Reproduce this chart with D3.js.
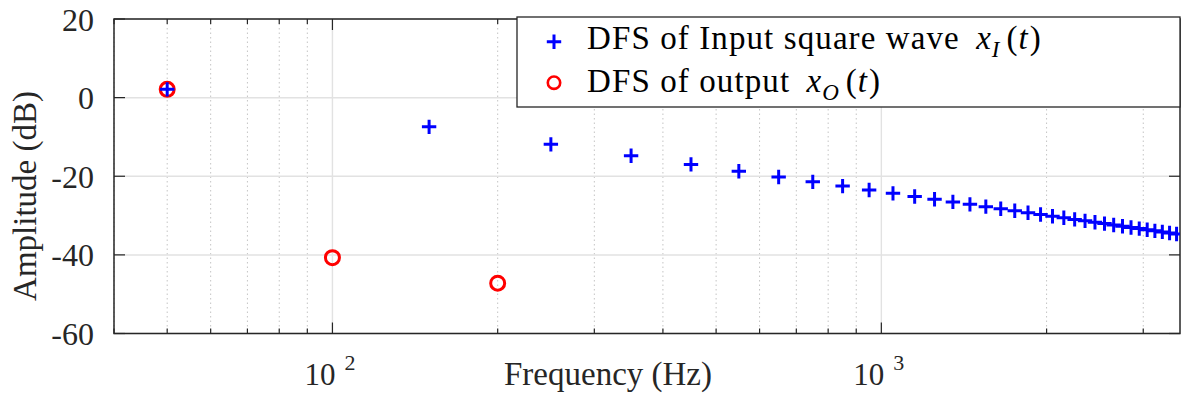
<!DOCTYPE html>
<html>
<head>
<meta charset="utf-8">
<script src="https://cdn.jsdelivr.net/npm/d3@7"></script>
<style>
  html, body { margin: 0; padding: 0; background: #fff; }
  svg { display: block; }
</style>
</head>
<body>
<svg id="chart" width="1181" height="394"></svg>
<script>
// ---- data ----
const inputFreq = [50,150,250,350,450,550,650,750,850,950,1050,1150,1250,1350,1450,1550,1650,1750,1850,1950,2050,2150,2250,2350,2450,2550,2650,2750,2850,2950,3050,3150,3250,3350,3450];
const inputDb = [2.10,-7.44,-11.88,-14.80,-16.99,-18.73,-20.18,-21.42,-22.51,-23.48,-24.35,-25.14,-25.86,-26.53,-27.15,-27.73,-28.27,-28.78,-29.27,-29.72,-30.16,-30.57,-30.97,-31.34,-31.71,-32.05,-32.39,-32.71,-33.02,-33.32,-33.61,-33.89,-34.16,-34.42,-34.68];
const outputFreq = [50, 100, 200];
const outputDb = [2.10, -40.7, -47.2];
const xMajorTicks = [100, 1000];
const xMajorExp = ["2", "3"];
const xMinorTicks = [40,50,60,70,80,90,200,300,400,500,600,700,800,900,2000,3000];
const yTicks = [20, 0, -20, -40, -60];
const legendLabels = ["DFS of Input square wave ", "DFS of output "];
const legendSubs = ["I", "O"];

// ---- layout ----
const SERIF = "'Liberation Serif', 'Times New Roman', serif";
const svg = d3.select("#chart");
const L = 114, R = 1180, T = 19, B = 333.5;
const x = d3.scaleLog().domain([40, 3500]).range([L, R]);
const y = d3.scaleLinear().domain([-60, 20]).range([B, T]);

svg.append("defs").append("clipPath").attr("id", "clip")
  .append("rect").attr("x", L - 10).attr("y", T - 10).attr("width", R - L + 10).attr("height", B - T + 20);

const g = svg.append("g");
// minor x grid (dotted)
g.selectAll(".xminor").data(xMinorTicks).enter().append("line")
  .attr("x1", d => x(d)).attr("x2", d => x(d)).attr("y1", T).attr("y2", B)
  .attr("stroke", "#c4c4c4").attr("stroke-width", 1).attr("stroke-dasharray", "1.5,3");
// major x grid
g.selectAll(".xmajor").data(xMajorTicks).enter().append("line")
  .attr("x1", d => x(d)).attr("x2", d => x(d)).attr("y1", T).attr("y2", B)
  .attr("stroke", "#e2e2e2").attr("stroke-width", 1.4);
// y grid
g.selectAll(".ygrid").data(yTicks).enter().append("line")
  .attr("x1", L).attr("x2", R).attr("y1", d => y(d)).attr("y2", d => y(d))
  .attr("stroke", "#e2e2e2").attr("stroke-width", 1.5);

// ticks (inward)
const tk = svg.append("g").attr("stroke", "#262626").attr("stroke-width", 1.2);
yTicks.forEach(d => {
  tk.append("line").attr("x1", L).attr("x2", L + 11).attr("y1", y(d)).attr("y2", y(d));
  tk.append("line").attr("x1", R).attr("x2", R - 11).attr("y1", y(d)).attr("y2", y(d));
});
xMajorTicks.forEach(d => {
  tk.append("line").attr("x1", x(d)).attr("x2", x(d)).attr("y1", B).attr("y2", B - 11);
  tk.append("line").attr("x1", x(d)).attr("x2", x(d)).attr("y1", T).attr("y2", T + 11);
});
xMinorTicks.forEach(d => {
  tk.append("line").attr("x1", x(d)).attr("x2", x(d)).attr("y1", B).attr("y2", B - 5);
  tk.append("line").attr("x1", x(d)).attr("x2", x(d)).attr("y1", T).attr("y2", T + 5);
});

// box
svg.append("rect").attr("x", L).attr("y", T).attr("width", R - L).attr("height", B - T)
  .attr("fill", "none").attr("stroke", "#262626").attr("stroke-width", 1.5);

// y tick labels
svg.selectAll(".ylab").data(yTicks).enter().append("text")
  .attr("x", 94).attr("y", d => y(d)).attr("dy", "0.36em")
  .attr("text-anchor", "end").attr("font-size", 32).attr("fill", "#262626")
  .style("font-family", SERIF).text(d => d);

// x tick labels 10^n
xMajorTicks.forEach((d, i) => {
  svg.append("text").attr("x", x(d) + 3).attr("y", 385)
    .attr("text-anchor", "end").attr("font-size", 31).attr("fill", "#262626")
    .style("font-family", SERIF).text("10");
  svg.append("text").attr("x", x(d) + 12).attr("y", 370)
    .attr("text-anchor", "start").attr("font-size", 22).attr("fill", "#262626")
    .style("font-family", SERIF).text(xMajorExp[i]);
});

// axis labels
svg.append("text").attr("x", 608).attr("y", 385).attr("text-anchor", "middle")
  .attr("font-size", 33).attr("fill", "#262626").style("font-family", SERIF).text("Frequency (Hz)");
svg.append("text").attr("transform", "translate(36,196) rotate(-90)")
  .attr("text-anchor", "middle").attr("font-size", 33).attr("fill", "#262626")
  .style("font-family", SERIF).text("Amplitude (dB)");

// marks
const plus = "M-7.2,0H7.2M0,-7.2V7.2";
const marks = svg.append("g").attr("clip-path", "url(#clip)");
marks.selectAll(".out").data(outputFreq).enter().append("circle")
  .attr("cx", d => x(d)).attr("cy", (d, i) => y(outputDb[i])).attr("r", 7)
  .attr("fill", "none").attr("stroke", "#ff0000").attr("stroke-width", 3);
marks.selectAll(".in").data(inputFreq).enter().append("path")
  .attr("transform", (d, i) => `translate(${x(d)},${y(inputDb[i])})`)
  .attr("d", plus).attr("fill", "none").attr("stroke", "#0000ff").attr("stroke-width", 3);

// legend
const lg = svg.append("g");
lg.append("rect").attr("x", 517).attr("y", 17).attr("width", 663).attr("height", 90)
  .attr("fill", "#fff").attr("stroke", "#262626").attr("stroke-width", 1.3);
lg.append("path").attr("transform", "translate(554,41.7)").attr("d", plus)
  .attr("fill", "none").attr("stroke", "#0000ff").attr("stroke-width", 3);
lg.append("circle").attr("cx", 554).attr("cy", 82.7).attr("r", 6.2)
  .attr("fill", "none").attr("stroke", "#ff0000").attr("stroke-width", 2.6);
[0, 1].forEach(i => {
  const t = lg.append("text").attr("x", 587).attr("y", i === 0 ? 49 : 91.5)
    .attr("font-size", 33).attr("fill", "#000").style("font-family", SERIF);
  t.append("tspan").style("letter-spacing", "1.1px").text(legendLabels[i]);
  t.append("tspan").attr("dx", 7).attr("font-style", "italic").text("x");
  t.append("tspan").attr("dx", 1).attr("font-style", "italic").attr("font-size", 23).attr("dy", 8).text(legendSubs[i]);
  t.append("tspan").attr("dx", 7).attr("dy", -8).text("(");
  t.append("tspan").attr("dx", 1).attr("font-style", "italic").text("t");
  t.append("tspan").attr("dx", 2).text(")");
});
</script>
</body>
</html>
